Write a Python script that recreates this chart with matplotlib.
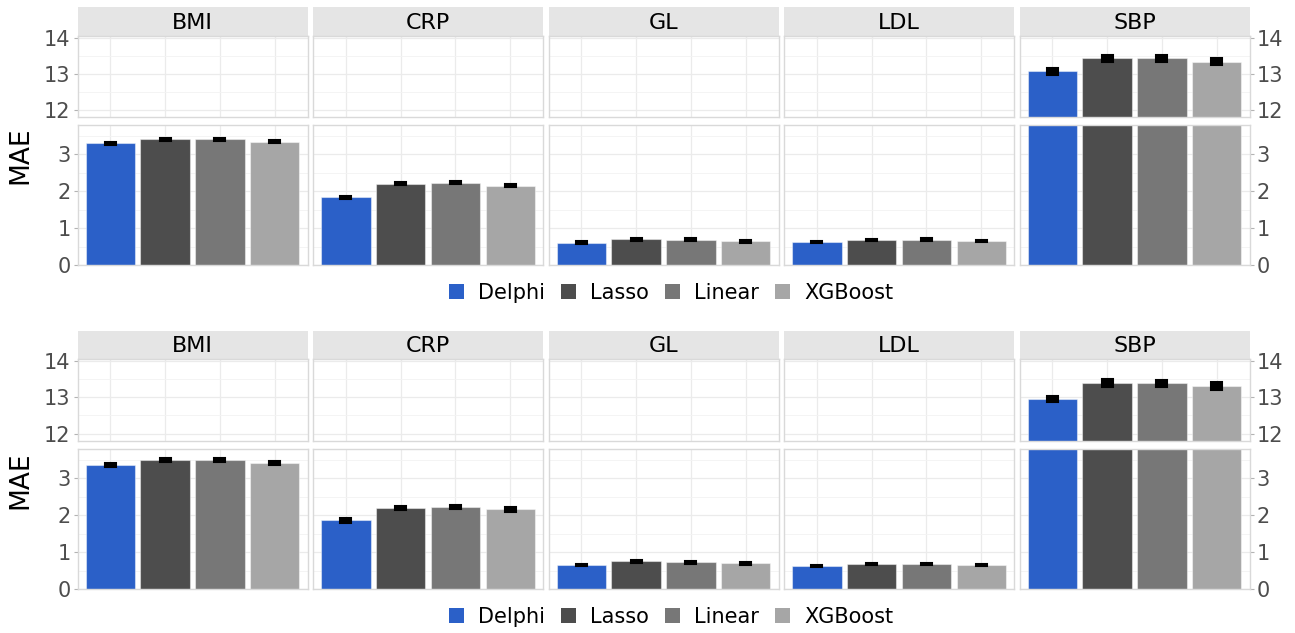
import numpy as np
import matplotlib
matplotlib.use("Agg")
import matplotlib.pyplot as plt
from matplotlib.patches import Patch

tasks = ["BMI", "CRP", "GL", "LDL", "SBP"]
models = ["Delphi", "Lasso", "Linear", "XGBoost"]
colors = ["#2B60C8", "#4D4D4D", "#777777", "#A6A6A6"]

# rows follow tasks order, columns follow models order
top_mae = [[3.30, 3.41, 3.41, 3.34],
           [1.84, 2.20, 2.23, 2.15],
           [0.60, 0.70, 0.68, 0.64],
           [0.63, 0.67, 0.69, 0.64],
           [13.07, 13.43, 13.43, 13.34]]
top_err = [[0.04, 0.04, 0.04, 0.04],
           [0.04, 0.04, 0.04, 0.05],
           [0.04, 0.04, 0.04, 0.04],
           [0.03, 0.03, 0.03, 0.03],
           [0.09, 0.10, 0.10, 0.09]]
bottom_mae = [[3.35, 3.49, 3.49, 3.42],
              [1.86, 2.20, 2.22, 2.16],
              [0.65, 0.75, 0.73, 0.70],
              [0.63, 0.67, 0.68, 0.64],
              [12.95, 13.39, 13.38, 13.31]]
bottom_err = [[0.05, 0.05, 0.05, 0.05],
              [0.06, 0.05, 0.05, 0.07],
              [0.04, 0.04, 0.04, 0.04],
              [0.03, 0.03, 0.03, 0.03],
              [0.09, 0.10, 0.10, 0.10]]

W, H = 1295, 633
fig = plt.figure(figsize=(W / 100, H / 100), dpi=100)

grid_c = "#EBEBEB"
border_c = "#D9D9D9"
tick_c = "#4D4D4D"


def px_axes(x0, y0, x1, y1):
    return fig.add_axes([x0 / W, 1 - y1 / H, (x1 - x0) / W, (y1 - y0) / H])


def style_panel(ax, ylim, majors, minors, col):
    ax.set_xlim(0.4, 4.6)
    ax.set_ylim(*ylim)
    ax.set_xticks([1, 2, 3, 4])
    ax.set_yticks(majors)
    ax.set_yticks(minors, minor=True)
    ax.grid(True, which="major", color=grid_c, lw=0.9, zorder=0)
    ax.grid(True, which="minor", axis="y", color="#F3F3F3", lw=0.6, zorder=0)
    ax.set_axisbelow(True)
    ax.tick_params(axis="x", length=0, labelbottom=False)
    ax.tick_params(axis="y", which="minor", length=0)
    ax.tick_params(axis="y", which="major", length=3, color="#B3B3B3",
                   labelsize=15, labelcolor=tick_c, pad=2)
    for s in ax.spines.values():
        s.set_color(border_c)
        s.set_linewidth(1.0)
    if col == 0:
        ax.tick_params(axis="y", left=True, labelleft=True, right=False, labelright=False)
    elif col == len(tasks) - 1:
        ax.tick_params(axis="y", left=False, labelleft=False, right=True, labelright=True)
    else:
        ax.tick_params(axis="y", left=False, labelleft=False)


def draw_row(mae, err, y_strip, y_up0, y_up1, y_lo0, y_lo1, y_leg, y_lab):
    x = np.arange(1, 5)
    for j, task in enumerate(tasks):
        x0 = 77.5 + j * 235.5
        x1 = x0 + 230
        st = px_axes(x0, y_strip, x1, y_up0)
        st.set_facecolor("#E5E5E5")
        st.set_xticks([])
        st.set_yticks([])
        for s in st.spines.values():
            s.set_visible(False)
        st.text(0.5, 0.45, task, ha="center", va="center", fontsize=16, transform=st.transAxes)

        up = px_axes(x0, y_up0, x1, y_up1)
        lo = px_axes(x0, y_lo0, x1, y_lo1)
        style_panel(up, (11.8, 14.05), [12, 13, 14], [12.5, 13.5], j)
        style_panel(lo, (0, 3.79), [0, 1, 2, 3], [0.5, 1.5, 2.5, 3.5], j)
        v = np.array(mae[j])
        e = np.array(err[j])
        for ax in (up, lo):
            ax.bar(x, v, width=0.9, color=colors, edgecolor=(1, 1, 1, 0.45), lw=0.8, zorder=2)
            ax.bar(x, 2 * e, bottom=v - e, width=0.2, color="black",
                   edgecolor="black", lw=1.5, zorder=3)

    fig.text(20 / W, 1 - y_lab / H, "MAE", rotation=90, ha="center", va="center", fontsize=19)
    handles = [Patch(facecolor=c, edgecolor="none") for c in colors]
    fig.legend(handles, models, loc="center", bbox_to_anchor=(671 / W, 1 - y_leg / H),
               ncol=4, frameon=False, fontsize=15, handlelength=0.72, handleheight=0.72,
               handletextpad=0.65, columnspacing=0.8, borderpad=0)


draw_row(top_mae, top_err, 7, 36, 117, 125, 265, 293, 155)
draw_row(bottom_mae, bottom_err, 331, 359, 441, 449, 589, 617, 480)

fig.savefig("out.png", dpi=100, facecolor="white")
